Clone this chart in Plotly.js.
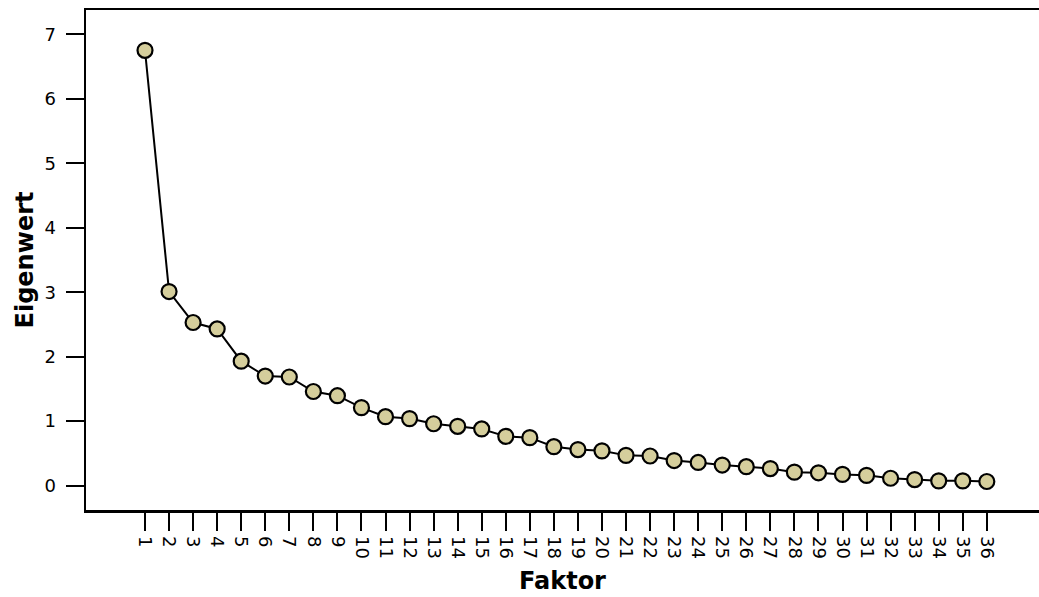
<!DOCTYPE html>
<html>
<head>
<meta charset="utf-8">
<script src="https://cdn.plot.ly/plotly-3.0.1.min.js"></script>
<style>
  html, body { margin: 0; padding: 0; background: #ffffff; }
  #chart { width: 1039px; height: 597px; }
</style>
</head>
<body>
<div id="chart"></div>
<script>
// Scree plot data
const factors = [1,2,3,4,5,6,7,8,9,10,11,12,13,14,15,16,17,18,19,20,21,22,23,24,25,26,27,28,29,30,31,32,33,34,35,36];
const eigenvalues = [6.75,3.01,2.53,2.43,1.93,1.70,1.685,1.46,1.395,1.21,1.07,1.04,0.96,0.92,0.88,0.765,0.745,0.605,0.56,0.54,0.47,0.46,0.39,0.36,0.32,0.295,0.265,0.21,0.20,0.175,0.16,0.115,0.095,0.075,0.075,0.065];
const yTicks = [0,1,2,3,4,5,6,7];
const xTitle = 'Faktor';
const yTitle = 'Eigenwert';

const FONT = 'DejaVu Sans, Verdana, sans-serif';

const trace = {
  x: factors,
  y: eigenvalues,
  type: 'scatter',
  mode: 'lines+markers',
  line: { color: '#000000', width: 2 },
  marker: { size: 15, color: '#d5ce9c', line: { color: '#000000', width: 2.2 } },
  hoverinfo: 'skip'
};

const layout = {
  width: 1039,
  height: 597,
  margin: { l: 86, r: 0, t: 10, b: 87 },
  paper_bgcolor: '#ffffff',
  plot_bgcolor: '#ffffff',
  showlegend: false,
  font: { family: FONT, color: '#000000', size: 18 },
  xaxis: {
    range: [-1.453, 38.17],
    tickmode: 'array',
    tickvals: factors,
    ticktext: factors.map(String),
    tickangle: 90,
    ticks: 'outside',
    ticklen: 18,
    tickwidth: 2,
    tickcolor: '#000000',
    ticklabelstandoff: 2,
    showline: true,
    linewidth: 2.5,
    linecolor: '#000000',
    mirror: true,
    showgrid: false,
    zeroline: false,
    tickfont: { size: 18, family: FONT },
    title: { text: xTitle, font: { size: 24, family: FONT, weight: 'bold' }, standoff: 14 }
  },
  yaxis: {
    range: [-0.377, 7.375],
    tickmode: 'array',
    tickvals: yTicks,
    ticktext: yTicks.map(String),
    ticks: 'outside',
    ticklen: 18,
    tickwidth: 2,
    tickcolor: '#000000',
    ticklabelstandoff: 6,
    showline: true,
    linewidth: 2.5,
    linecolor: '#000000',
    mirror: false,
    showgrid: false,
    zeroline: false,
    tickfont: { size: 18, family: FONT },
    title: { text: yTitle, font: { size: 24, family: FONT, weight: 'bold' }, standoff: 4 }
  }
};

Plotly.newPlot('chart', [trace], layout, { displayModeBar: false, staticPlot: true });
</script>
</body>
</html>
